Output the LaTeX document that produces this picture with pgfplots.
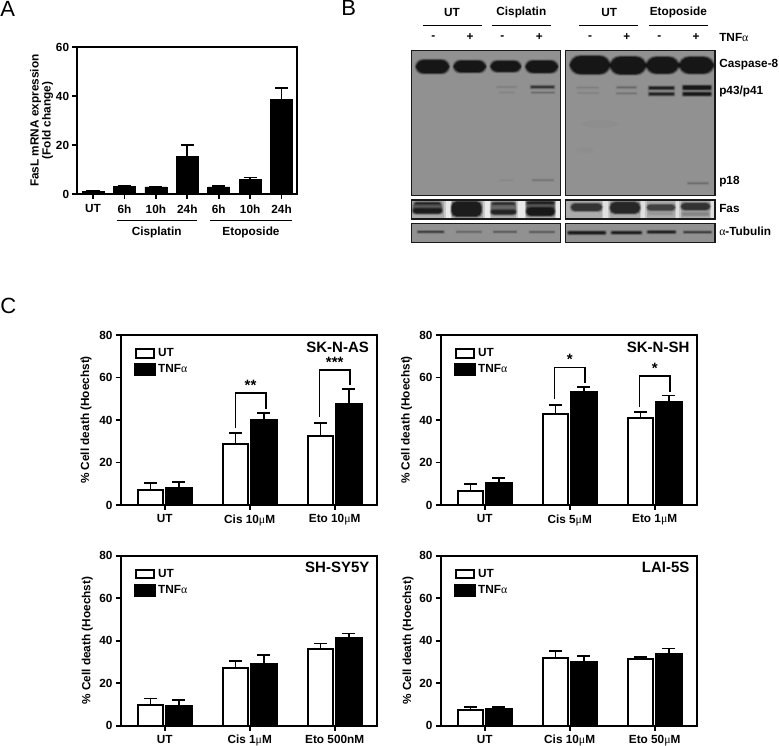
\documentclass[border=0pt]{standalone}
\usepackage{pgfplots}
\pgfplotsset{compat=1.18}
\usepackage{fontspec}
\setmainfont{Liberation Sans}
\newfontfamily\gr{Liberation Serif}
\newcommand\ga{{\gr\mdseries α}}
\newcommand\gm{{\gr\mdseries μ}}
\newcommand\lab{\fontsize{8.85pt}{10pt}\selectfont\bfseries}
\definecolor{blotbg}{gray}{0.57}
% soft band: x1,x2,y1,y2,opacity,radius
\newcommand\band[6]{%
  \foreach \d/\o in {1.6/.12,1.1/.2,.6/.3,.1/.45,-.4/.6}{%
    \pgfmathsetmacro\oo{\o*#5}%
    \fill[black,opacity=\oo,rounded corners=#6pt]
      ({#1-\d},{#3-\d}) rectangle ({#2+\d},{#4+\d});}}
\pgfplotsset{
  base/.style={
    scale only axis, anchor=north west, axis on top,
    axis line style={line width=1.5pt}, tick style={line width=1.3pt,black},
    major tick length=3.75pt, tick align=outside, xtick pos=bottom, ytick pos=left,
    tick label style={font=\lab},
    /pgf/number format/assume math mode=true,
    ymin=0, clip=false,
    yticklabel style={inner sep=0pt,xshift=-2.2pt},
    xticklabel style={inner sep=0pt,yshift=-3.2pt},
    label style={font=\lab},
    error bars/y dir=plus, error bars/y explicit,
    error bars/error bar style={line width=1.3pt,black},
    error bars/error mark options={rotate=90,mark size=4.9pt,line width=1.3pt,black},
  },
  cpanel/.style={
    base, width=192pt, height=127.5pt,
    ybar=1.95pt, bar width=19.25pt,
    xmin=-0.518, xmax=2.494, ymax=80, xtick={0,1,2}, ytick={0,20,40,60,80},
    legend cell align=left,
    legend style={at={(rel axis cs:0.052,0.925)},anchor=north west,draw=none,fill=none,
      inner sep=0pt,font=\lab,row sep=3.6pt,
      nodes={inner sep=0pt,outer sep=0pt}},
    every axis y label/.style={at={(rel axis cs:0,0.5)},rotate=90,anchor=center,yshift=#1*0.75pt,font=\lab},
    ylabel={\% Cell death (Hoechst)},
  },
  ut/.style={draw=black,fill=white,line width=1.5pt,
    legend image code/.code={\draw[black,fill=white,line width=1.5pt] (0pt,-3.2pt) rectangle (13.5pt,3.2pt); \path[draw=none,fill=none] (0pt,0pt) -- (16.4pt,0pt);}},
  tnf/.style={draw=black,fill=black,line width=1.5pt,
    legend image code/.code={\fill[black] (-.75pt,-3.95pt) rectangle (14.25pt,3.95pt); \path[draw=none,fill=none] (0pt,0pt) -- (16.4pt,0pt);}},
}
\newcommand\ttl[2]{\node[anchor=east,font=\fontsize{11.25pt}{12pt}\selectfont\bfseries] at (rel axis cs:#1,0.93) {#2};}
\newcommand\brk[6]{\draw[line width=1.1pt] (axis cs:#1,#3) |- (axis cs:#2,#4) -- (axis cs:#2,#5);
  \node[font=\fontsize{11.25pt}{12pt}\selectfont\bfseries] at (axis cs:{(#1+#2)/2},#4+3.7) {#6};}
\begin{document}
\begin{tikzpicture}
\path[use as bounding box] (0,0) rectangle (584.25pt,-559.5pt);

% Panel A
\begin{axis}[base, at={(57.98pt,-35.48pt)}, width=165pt, height=110pt,
  ybar, bar width=16.5pt, ymax=60, xmin=-0.5, xmax=6.5,
  xtick={0,1,2,3,4,5,6}, xticklabels={UT,6h,10h,24h,6h,10h,24h}, ytick={0,20,40,60},
  every axis y label/.style={at={(rel axis cs:0,0.5)},rotate=90,anchor=center,yshift=26.5pt,font=\lab},
  ylabel={\begin{tabular}{@{}c@{}}FasL mRNA expression\\[-1pt](Fold change)\end{tabular}},
  xticklabel style={yshift=-.9pt}]
\addplot[draw=black,fill=black,line width=.5pt] coordinates {
 (0,1.2) +- (0,0.1) (1,3.1) +- (0,0.1) (2,2.9) +- (0,0.1) (3,15.2) +- (0,4.8)
 (4,2.9) +- (0,0.3) (5,5.9) +- (0,0.8) (6,38.6) +- (0,4.9)};
\end{axis}

% Panel C
\begin{axis}[cpanel=34.7, at={(90.5pt,-251.25pt)}, xticklabels={UT,Cis 10\gm M,Eto 10\gm M}]
\addplot[ut] coordinates {(0,7.2) +- (0,3) (1,28.5) +- (0,5.5) (2,32.5) +- (0,6)};
\addplot[tnf] coordinates {(0,8) +- (0,2.8) (1,40) +- (0,3.3) (2,47.5) +- (0,7.2)};
\legend{UT,TNF\ga}
\ttl{0.988}{SK-N-AS}
\brk{0.83}{1.19}{36}{52.8}{45}{**}
\brk{1.82}{2.18}{41.5}{63.5}{56.5}{***}
\end{axis}
\begin{axis}[cpanel=34, at={(330.5pt,-251.25pt)}, xticklabels={UT,Cis 5\gm M,Eto 1\gm M}]
\addplot[ut] coordinates {(0,6.8) +- (0,3.2) (1,43) +- (0,4.2) (2,40.8) +- (0,3)};
\addplot[tnf] coordinates {(0,10.2) +- (0,2.6) (1,53) +- (0,2.5) (2,48.5) +- (0,3)};
\legend{UT,TNF\ga}
\ttl{0.99}{SK-N-SH}
\brk{0.82}{1.18}{49.7}{64.8}{57.3}{*}
\brk{1.82}{2.18}{46}{60.8}{53.3}{*}
\end{axis}
\begin{axis}[cpanel=33.4, at={(90.5pt,-416.75pt)}, xticklabels={UT,Cis 1\gm M,Eto 500nM}]
\addplot[ut] coordinates {(0,9.6) +- (0,3.2) (1,27.3) +- (0,3.2) (2,36.2) +- (0,2.5)};
\addplot[tnf] coordinates {(0,9.2) +- (0,2.8) (1,29.2) +- (0,4.2) (2,41.3) +- (0,2.1)};
\legend{UT,TNF\ga}
\ttl{0.99}{SH-SY5Y}
\end{axis}
\begin{axis}[cpanel=32.5, at={(330.5pt,-416.75pt)}, xticklabels={UT,Cis 10\gm M,Eto 50\gm M}]
\addplot[ut] coordinates {(0,7.2) +- (0,1.6) (1,32) +- (0,3) (2,31.5) +- (0,0.7)};
\addplot[tnf] coordinates {(0,8) +- (0,0.8) (1,29.8) +- (0,3) (2,33.5) +- (0,2.8)};
\legend{UT,TNF\ga}
\ttl{0.99}{LAI-5S}
\end{axis}

\begin{scope}[x=0.75pt,y=-0.75pt]
% panel letters
\node[font=\fontsize{16.5pt}{18pt}\selectfont,anchor=west,inner sep=0pt] at (0,9) {A};
\node[font=\fontsize{16.5pt}{18pt}\selectfont,anchor=west,inner sep=0pt] at (341,8) {B};
\node[font=\fontsize{16.5pt}{18pt}\selectfont,anchor=west,inner sep=0pt] at (0,306) {C};
% panel A group labels
\draw[line width=.9pt] (116.7,220.7) -- (197.3,220.7);
\draw[line width=.9pt] (210,220.7) -- (291.7,220.7);
\node[font=\lab,inner sep=0pt] at (156.7,232.7) {Cisplatin};
\node[font=\lab,inner sep=0pt] at (251,232.7) {Etoposide};
% panel B headers
\foreach \a/\b in {422.7/481.7,492/550.7,579.3/638.3,649/707.7}
  \draw[line width=.9pt] (\a,25.7) -- (\b,25.7);
\foreach \x/\t in {452/UT,521.3/Cisplatin,609.3/UT,678.3/Etoposide}
  \node[font=\lab,inner sep=0pt] at (\x,12.7) {\t};
\foreach \x/\t in {433.3/-,470/+,502.3/-,539.3/+,590/-,626.7/+,659.3/-,696/+}
  \node[font=\lab,inner sep=0pt] at (\x,37.3) {\t};
\foreach \y/\t in {37.3/TNF\ga,65/Caspase-8,91.7/p43\slash p41,181.7/p18,208.7/Fas,231.7/\ga-Tubulin}
  \node[font=\lab,inner sep=0pt,anchor=west] at (719,\y) {\t};
% main blots
\fill[blotbg] (411.3,50.7) rectangle (560.7,195.3);
\fill[blotbg] (565.7,50.7) rectangle (715,195.3);
\band{416}{449}{60}{73.3}{.88}{6}
\band{453.7}{485.7}{60.7}{72.3}{.88}{5.5}
\band{490.7}{520.7}{61}{71.7}{.88}{5}
\band{525.7}{557.7}{60.7}{72.7}{.88}{5.5}
\band{570}{610}{56}{74}{.88}{8}
\band{610}{646}{56.7}{74.3}{.88}{8}
\band{646}{679}{57}{73.5}{.88}{8}
\band{679}{714}{57}{73.5}{.88}{8}
% p43/p41
\band{497}{516}{86.7}{87.2}{.09}{.2}
\band{500}{514}{92.2}{92.7}{.05}{.2}
\band{531}{554}{86}{88}{.55}{.5}
\band{532}{554}{92.1}{93}{.22}{.3}
\band{577}{598}{87.2}{88}{.1}{.3}
\band{578}{598}{92.7}{93.3}{.07}{.2}
\band{617}{636}{86.8}{87.9}{.2}{.3}
\band{617}{636}{93}{93.8}{.17}{.3}
\band{649}{674}{86.7}{89.2}{.7}{.6}
\band{649}{674}{92.7}{95.2}{.65}{.6}
\band{683}{711}{85.7}{89.6}{.85}{.8}
\band{683}{711}{92.4}{95.6}{.85}{.8}
% p18
\band{500}{513}{180}{180.5}{.04}{.2}
\band{533}{553}{179.8}{180.6}{.17}{.3}
\band{688}{708}{182.8}{183.8}{.2}{.3}
% smears
\fill[black,opacity=.015] (600,124) ellipse (19 and 4);
\fill[black,opacity=.02] (585,150) ellipse (9 and 3);
\draw[line width=1.1pt,black!90] (411.3,50.7) rectangle (560.7,195.3);
\draw[line width=1.1pt,black!90] (565.7,50.7) rectangle (715,195.3);
% Fas
\fill[gray!65!white] (411.3,200) rectangle (560.7,219);
\fill[gray!65!white] (565.7,200) rectangle (715,219);
\foreach \a/\b in {445.5/450.5,484.5/489.5,517.5/524.5,556/560.7}
  {\fill[white,opacity=.35] (\a-1.5,200) rectangle (\b+1.5,219);
   \fill[white,opacity=.6] (\a,200) rectangle (\b,219);}
\foreach \a/\b in {603/608,641/645,676/679,711/715}
  {\fill[white,opacity=.3] (\a-1.5,200) rectangle (\b+1.5,219);
   \fill[white,opacity=.45] (\a,200) rectangle (\b,219);}
\band{413}{442}{202}{214}{.35}{3}
\band{413}{442}{208.5}{213}{.6}{2}
\band{415}{440}{202.7}{204.3}{.45}{.8}
\band{451.5}{481.5}{201.5}{216.5}{.85}{4}
\band{491}{516}{202}{215}{.28}{3}
\band{491}{516}{210}{214}{.55}{2}
\band{492}{515}{202.7}{204.5}{.45}{.8}
\band{526.5}{554.5}{201.5}{216}{.35}{3}
\band{526.5}{554.5}{207.5}{215.5}{.65}{3}
\band{526.5}{554.5}{201.5}{203.8}{.55}{.8}
\band{571}{602}{203.5}{211}{.6}{3}
\band{610}{640}{202}{213.5}{.72}{4}
\band{647}{675}{204.5}{210.5}{.5}{2.5}
\band{648}{673}{212.3}{214.7}{.08}{1}
\band{681}{710}{203}{210}{.62}{3}
\band{682}{709}{212.3}{215.7}{.14}{1}
\draw[line width=1.1pt,black!90] (411.3,200) rectangle (560.7,219);
\draw[line width=1.1pt,black!90] (565.7,200) rectangle (715,219);
% Tubulin
\fill[blotbg] (411.3,223.3) rectangle (560.7,242.3);
\fill[blotbg] (565.7,223.3) rectangle (715,242.3);
\band{418}{443.5}{231.2}{232.6}{.55}{.6}
\band{457}{481}{231.5}{232.3}{.28}{.3}
\band{494}{516}{231.5}{232.3}{.38}{.3}
\band{530}{554}{231.5}{232.5}{.33}{.3}
\band{568}{605.5}{231.4}{234}{.8}{1}
\band{611.5}{641.5}{231.4}{233.8}{.75}{1}
\band{647.5}{675.5}{230.9}{233.1}{.75}{1}
\band{684}{711}{231.5}{232.7}{.55}{.6}
\draw[line width=1.1pt,black!90] (411.3,223.3) rectangle (560.7,242.3);
\draw[line width=1.1pt,black!90] (565.7,223.3) rectangle (715,242.3);
\end{scope}
\end{tikzpicture}
\end{document}
